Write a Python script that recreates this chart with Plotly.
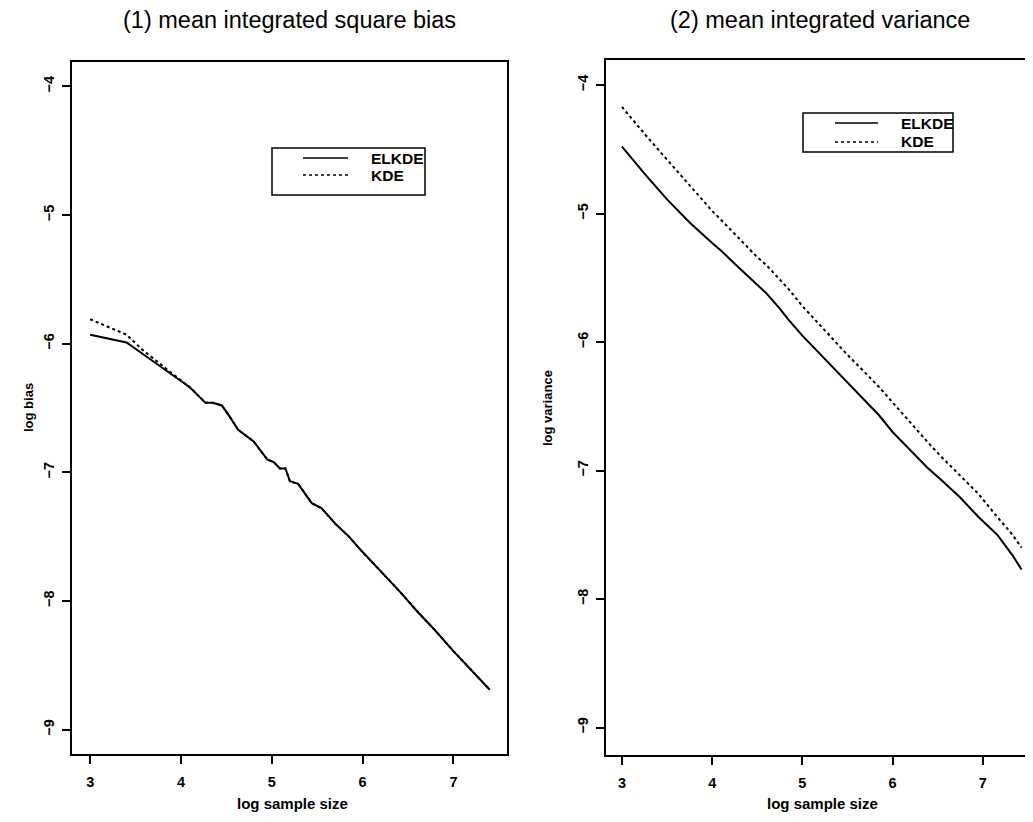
import plotly.graph_objects as go

# page body has an 8px margin, so the figure is placed at (8, 8) on screen
OFF = 8
W, H = 1033 - OFF, 822 - OFF

# ---------------- data ----------------
bias_x = [3.0, 3.4, 3.58, 3.7, 3.9, 4.1, 4.27, 4.35, 4.45, 4.52, 4.63, 4.8, 4.95, 5.02,
          5.09, 5.15, 5.2, 5.29, 5.44, 5.55, 5.7, 5.85, 6.0, 6.2, 6.4, 6.6, 6.8, 7.0, 7.2, 7.4]
elkde_bias = [-5.93, -5.99, -6.08, -6.14, -6.24, -6.34, -6.46, -6.46, -6.48, -6.55, -6.67, -6.76,
              -6.90, -6.92, -6.97, -6.97, -7.07, -7.09, -7.24, -7.28, -7.40, -7.50, -7.62,
              -7.77, -7.92, -8.08, -8.23, -8.39, -8.54, -8.69]
kde_bias = [-5.81, -5.93, -6.05, -6.12, -6.23, -6.34, -6.46, -6.46, -6.48, -6.55, -6.67, -6.76,
            -6.90, -6.92, -6.97, -6.97, -7.07, -7.09, -7.24, -7.28, -7.40, -7.50, -7.62,
            -7.77, -7.92, -8.08, -8.23, -8.39, -8.54, -8.69]

var_x = [3.0, 3.25, 3.5, 3.75, 4.0, 4.1, 4.25, 4.5, 4.6, 4.75, 4.85, 5.0, 5.25, 5.5, 5.67,
         5.85, 6.0, 6.2, 6.39, 6.55, 6.75, 6.95, 7.16, 7.33, 7.43]
elkde_var = [-4.48, -4.69, -4.89, -5.07, -5.23, -5.29, -5.39, -5.56, -5.62, -5.74, -5.83, -5.95,
             -6.13, -6.31, -6.44, -6.57, -6.70, -6.84, -6.98, -7.08, -7.21, -7.36, -7.50,
             -7.66, -7.77]
kde_var = [-4.17, -4.38, -4.58, -4.78, -4.98, -5.05, -5.16, -5.34, -5.40, -5.51, -5.59, -5.72,
           -5.91, -6.10, -6.22, -6.35, -6.47, -6.63, -6.78, -6.90, -7.04, -7.18, -7.36,
           -7.50, -7.60]

x_ticks = [3, 4, 5, 6, 7]
y_ticks = [-9, -8, -7, -6, -5, -4]
panel_titles = ["(1) mean integrated square bias", "(2) mean integrated variance"]
y_titles = ["log bias", "log variance"]
x_title = "log sample size"
series_names = ["ELKDE", "KDE"]

FONT = "Liberation Sans, Arial, Helvetica, sans-serif"


def px(x):
    """screen pixel x -> paper fraction"""
    return (x - OFF) / W


def py(y):
    """screen pixel y -> paper fraction"""
    return 1 - (y - OFF) / H


fig = go.Figure()
# panel 1
fig.add_trace(go.Scatter(x=bias_x, y=kde_bias, mode="lines", name=series_names[1],
                         line=dict(color="black", width=2, dash="dot"), xaxis="x", yaxis="y"))
fig.add_trace(go.Scatter(x=bias_x, y=elkde_bias, mode="lines", name=series_names[0],
                         line=dict(color="black", width=2), xaxis="x", yaxis="y"))
# panel 2
fig.add_trace(go.Scatter(x=var_x, y=kde_var, mode="lines", name=series_names[1],
                         line=dict(color="black", width=2, dash="dot"), xaxis="x2", yaxis="y2"))
fig.add_trace(go.Scatter(x=var_x, y=elkde_var, mode="lines", name=series_names[0],
                         line=dict(color="black", width=2), xaxis="x2", yaxis="y2"))

tickfont = dict(family=FONT, size=14.5, color="black", weight="bold")
common_x = dict(tickvals=x_ticks, ticks="outside", ticklen=8, tickwidth=1.5, tickcolor="black",
                showline=True, linecolor="black", linewidth=1.5, mirror=True,
                showgrid=False, zeroline=False, tickfont=tickfont, automargin=False,
                ticklabelstandoff=6)
common_y = dict(tickvals=y_ticks, ticks="outside", ticklen=8, tickwidth=1.5, tickcolor="black",
                showline=True, linecolor="black", linewidth=1.5,
                showgrid=False, zeroline=False, tickfont=tickfont, tickangle=-90,
                automargin=False, ticklabelstandoff=2)

fig.update_layout(
    width=W, height=H,
    margin=dict(l=0, r=0, t=0, b=0),
    paper_bgcolor="white", plot_bgcolor="white",
    showlegend=False,
    xaxis=dict(domain=[px(72), px(507)], range=[2.80, 7.59], anchor="y", **common_x),
    yaxis=dict(domain=[py(754), py(62)], range=[-9.19, -3.81], anchor="x", mirror=True, **common_y),
    xaxis2=dict(domain=[px(606), 1.0], range=[2.823, 7.557], anchor="y2", **common_x),
    yaxis2=dict(domain=[py(755), py(60)], range=[-9.214, -3.805], anchor="x2", mirror=False, **common_y),
)

annotations = []
# panel titles
for cx, t in zip([289, 820], panel_titles):
    annotations.append(dict(text=t, x=px(cx), y=py(20), xref="paper", yref="paper",
                            showarrow=False, xanchor="center", yanchor="middle",
                            font=dict(family=FONT, size=23.5, color="black")))
# x titles
for cx in [292, 822]:
    annotations.append(dict(text=x_title, x=px(cx), y=py(803), xref="paper", yref="paper",
                            showarrow=False, xanchor="center", yanchor="middle",
                            font=dict(family=FONT, size=15, color="black", weight="bold")))
# y titles
for cx, cy, t in [(28, 408, y_titles[0]), (547, 408, y_titles[1])]:
    annotations.append(dict(text=t, x=px(cx), y=py(cy), xref="paper", yref="paper",
                            showarrow=False, xanchor="center", yanchor="middle", textangle=-90,
                            font=dict(family=FONT, size=13, color="black", weight="bold")))

shapes = []
# legends (box, line samples, labels)
legends = [
    dict(box=(272, 148, 425, 195), lx=(303, 348), rows=(158, 175), tx=369),
    dict(box=(803, 113, 953, 152), lx=(835, 878), rows=(123, 142), tx=899),
]
for lg in legends:
    x0, y0, x1, y1 = lg["box"]
    shapes.append(dict(type="rect", xref="paper", yref="paper", x0=px(x0), x1=px(x1),
                       y0=py(y1), y1=py(y0), line=dict(color="black", width=1.5),
                       fillcolor="white", layer="above"))
    for name, ry, dash in zip(series_names, lg["rows"], ["solid", "dot"]):
        shapes.append(dict(type="line", xref="paper", yref="paper", x0=px(lg["lx"][0]),
                           x1=px(lg["lx"][1]), y0=py(ry), y1=py(ry),
                           line=dict(color="black", width=1.5, dash=dash), layer="above"))
        annotations.append(dict(text=name, x=px(lg["tx"]), y=py(ry), xref="paper", yref="paper",
                                showarrow=False, xanchor="left", yanchor="middle",
                                font=dict(family=FONT, size=15.5, color="black", weight="bold")))

fig.update_layout(annotations=annotations, shapes=shapes)
fig.write_html("out.html")
